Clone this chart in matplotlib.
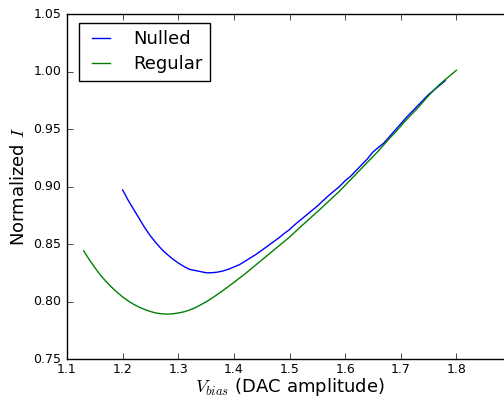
import numpy as np
import matplotlib
matplotlib.use('Agg')
import matplotlib.pyplot as plt

# Courbe "Nulled"
x_nulled = [1.20, 1.21, 1.22, 1.23, 1.24, 1.25, 1.26, 1.27, 1.28, 1.29,
            1.30, 1.31, 1.32, 1.33, 1.34, 1.35, 1.36, 1.37, 1.38, 1.39,
            1.40, 1.41, 1.42, 1.43, 1.44, 1.45, 1.46, 1.47, 1.48, 1.49,
            1.50, 1.51, 1.52, 1.53, 1.54, 1.55, 1.56, 1.57, 1.58, 1.59,
            1.60, 1.61, 1.62, 1.63, 1.64, 1.65, 1.66, 1.67, 1.68, 1.69,
            1.70, 1.71, 1.72, 1.73, 1.74, 1.75, 1.76, 1.77, 1.78]
y_nulled = [0.897, 0.888, 0.880, 0.872, 0.864, 0.857, 0.851, 0.8455, 0.841, 0.837,
            0.8335, 0.8305, 0.828, 0.827, 0.826, 0.825, 0.825, 0.8255, 0.8265, 0.828,
            0.830, 0.832, 0.835, 0.838, 0.841, 0.8445, 0.848, 0.8515, 0.855, 0.859,
            0.8625, 0.867, 0.871, 0.875, 0.879, 0.883, 0.8875, 0.892, 0.896, 0.900,
            0.905, 0.909, 0.914, 0.919, 0.924, 0.930, 0.934, 0.938, 0.9435, 0.949,
            0.9545, 0.960, 0.965, 0.970, 0.975, 0.980, 0.984, 0.988, 0.992]

# Courbe "Regular"
x_regular = [1.13, 1.14, 1.15, 1.16, 1.17, 1.18, 1.19, 1.20, 1.21, 1.22,
             1.23, 1.24, 1.25, 1.26, 1.27, 1.28, 1.29, 1.30, 1.31, 1.32,
             1.33, 1.34, 1.35, 1.36, 1.37, 1.38, 1.39, 1.40, 1.41, 1.42,
             1.43, 1.44, 1.45, 1.46, 1.47, 1.48, 1.49, 1.50, 1.51, 1.52,
             1.53, 1.54, 1.55, 1.56, 1.57, 1.58, 1.59, 1.60, 1.61, 1.62,
             1.63, 1.64, 1.65, 1.66, 1.67, 1.68, 1.69, 1.70, 1.71, 1.72,
             1.73, 1.74, 1.75, 1.76, 1.77, 1.78, 1.79, 1.80]
y_regular = [0.844, 0.8365, 0.8295, 0.823, 0.8175, 0.8125, 0.808, 0.804, 0.8005, 0.7975,
             0.795, 0.793, 0.7913, 0.790, 0.7893, 0.789, 0.7893, 0.790, 0.791, 0.7925,
             0.7945, 0.797, 0.7997, 0.8027, 0.806, 0.8094, 0.813, 0.8166, 0.8203, 0.824,
             0.828, 0.832, 0.836, 0.840, 0.844, 0.848, 0.852, 0.856, 0.8605, 0.865,
             0.8693, 0.8737, 0.878, 0.8825, 0.887, 0.8915, 0.896, 0.901, 0.906, 0.911,
             0.916, 0.921, 0.926, 0.931, 0.9365, 0.942, 0.947, 0.9525, 0.958, 0.963,
             0.968, 0.9735, 0.979, 0.984, 0.9888, 0.993, 0.997, 1.001]

plt.style.use('classic')
plt.rcParams['mathtext.fontset'] = 'cm'

fig = plt.figure(figsize=(5.04, 4.0), dpi=100, facecolor='white')
# l'axe depasse a droite (image recadree)
ax = fig.add_axes([67 / 504, 41 / 400, 445 / 504, 345 / 400])

ax.plot(x_nulled, y_nulled, color='b', linewidth=1.0, label='Nulled')
ax.plot(x_regular, y_regular, color='g', linewidth=1.0, label='Regular')

ax.set_xlim(1.1, 1.9)
ax.set_ylim(0.75, 1.05)
ax.set_xticks(np.arange(1.1, 1.85, 0.1))
ax.set_yticks(np.arange(0.75, 1.051, 0.05))
ax.tick_params(labelsize=9, direction='in', top=True, right=True)
ax.tick_params(axis='x', pad=3)
ax.set_xlabel(r'$V_{bias}$ (DAC amplitude)', fontsize=13, labelpad=0)
ax.set_ylabel(r'Normalized $I$', fontsize=13, labelpad=4)

ax.legend(loc='upper left', bbox_to_anchor=(12 / 445, 1 - 9 / 345),
          fontsize=13, handlelength=1.6, handletextpad=1.0,
          borderpad=0.4, labelspacing=0.4, borderaxespad=0.0)

fig.savefig('out.png', dpi=100, facecolor='white')
